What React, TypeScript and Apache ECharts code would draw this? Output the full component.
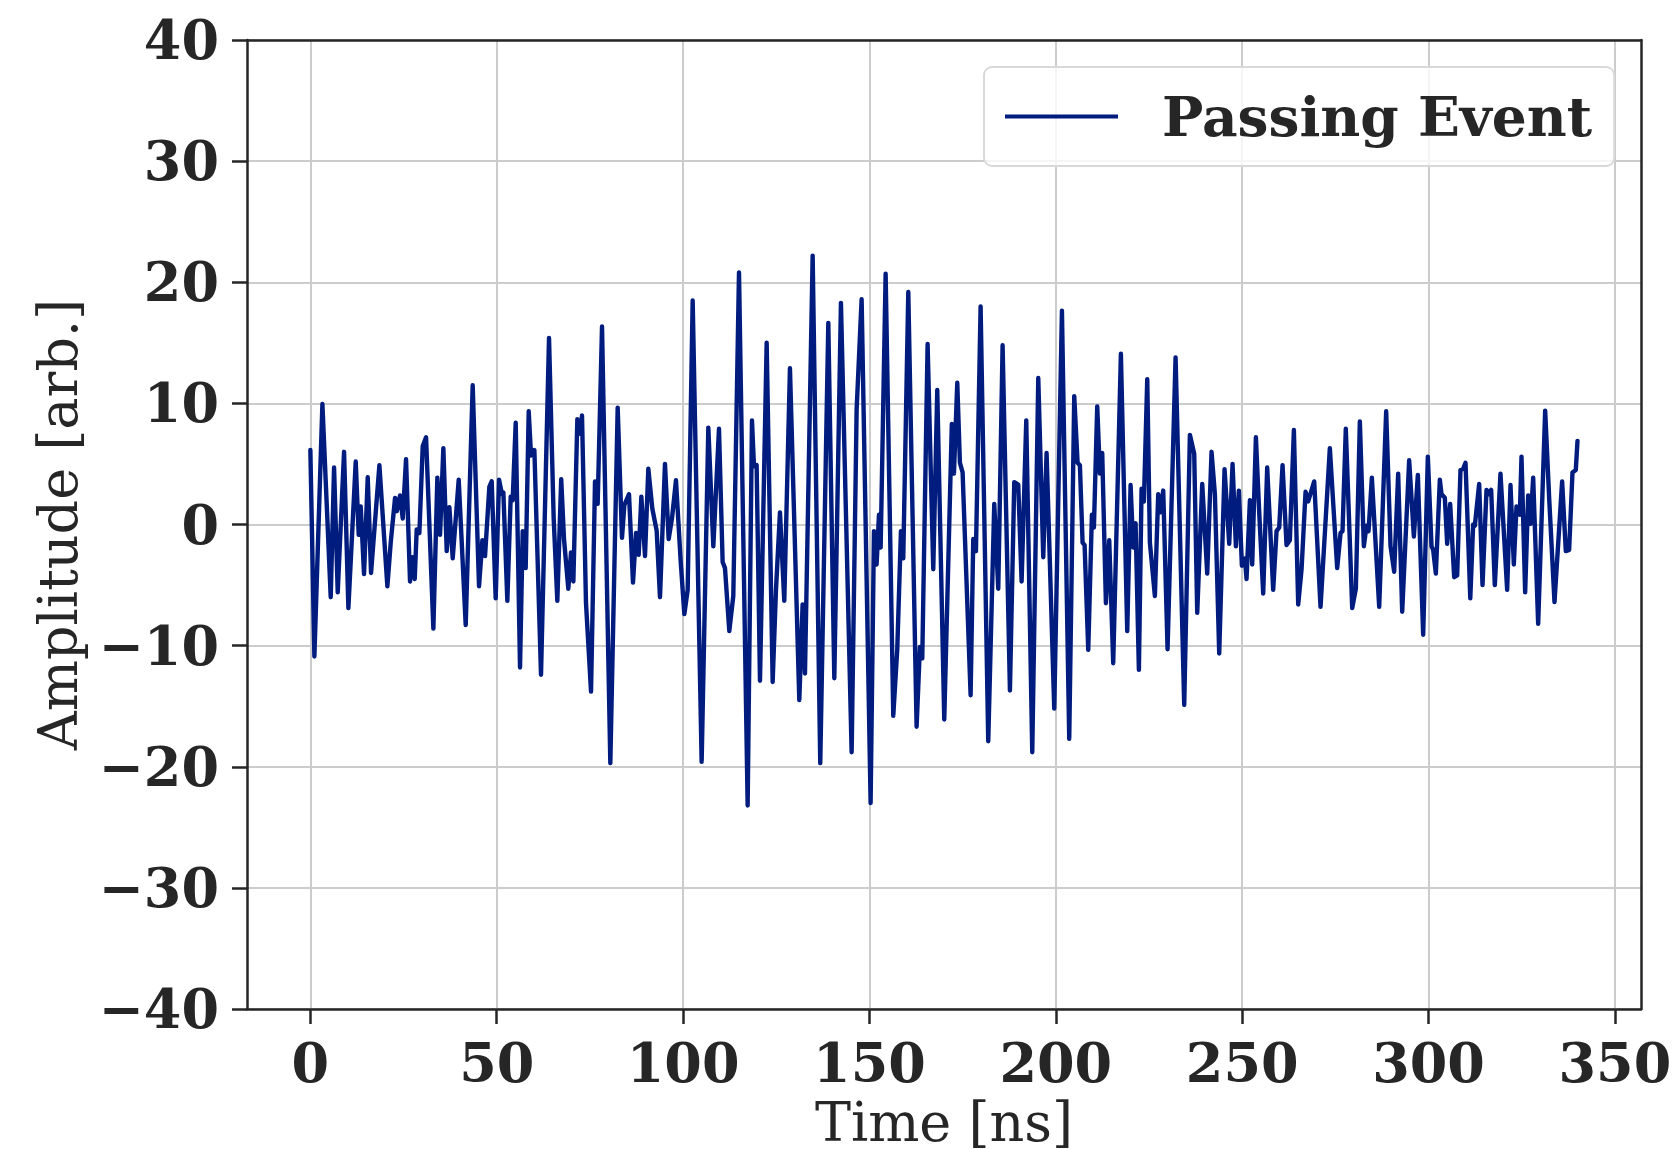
import React, { useEffect, useRef } from "react";
import * as echarts from "echarts";

const seriesName = "Passing Event";
const xTicks = [0, 50, 100, 150, 200, 250, 300, 350];
const yTicks = [-40, -30, -20, -10, 0, 10, 20, 30, 40];

const timeNs = [
  0, 1.08, 3.23, 5.46, 6.36, 7.34, 9.04, 10.2, 12.17, 12.97, 13.51, 14.4, 15.39, 16.28, 18.52, 20.66,
  21.56, 22.72, 23.17, 24.06, 24.78, 25.67, 26.74, 27.37, 28.0, 28.53, 29.25, 30.14, 31.04, 33.0,
  34.07, 34.79, 35.68, 36.58, 37.29, 38.19, 39.8, 41.68, 43.55, 45.25, 46.15, 46.86, 48.02, 48.65,
  49.72, 50.62, 51.42, 51.78, 52.85, 53.75, 54.28, 55.09, 56.25, 56.97, 57.77, 58.58, 59.2, 60.1,
  61.88, 64.03, 65.28, 66.26, 67.3, 68.05, 69.21, 69.93, 70.56, 71.63, 72.34, 72.88, 73.95, 75.3,
  76.37, 77.08, 78.25, 80.48, 82.45, 83.61, 84.24, 85.49, 86.56, 87.37, 88.08, 88.8, 89.78, 90.67,
  91.75, 92.91, 93.8, 95.14, 96.13, 97.02, 98.09, 99.35, 100.33, 101.23, 102.57, 104.98, 106.77,
  108.11, 109.63, 110.61, 111.24, 112.4, 113.47, 115.0, 117.32, 118.48, 119.02, 119.73, 120.63,
  122.42, 124.03, 124.92, 125.99, 127.15, 128.67, 131.18, 132.07, 132.7, 134.76, 136.8, 138.96,
  140.57, 142.35, 145.22, 146.56, 147.9, 150.31, 151.21, 151.92, 152.55, 153.0, 154.34, 156.39,
  157.46, 158.45, 159.07, 160.42, 162.65, 163.54, 164.17, 165.6, 167.12, 168.19, 170.07, 172.1,
  172.67, 173.56, 174.27, 174.99, 177.14, 177.85, 178.57, 179.82, 181.87, 183.48, 184.56, 185.72,
  187.69, 188.85, 189.92, 190.82, 192.07, 193.68, 195.29, 196.63, 197.52, 199.58, 201.64, 203.6,
  204.94, 205.84, 206.46, 207.18, 207.72, 208.7, 209.68, 210.22, 211.11, 211.83, 212.45, 213.44,
  214.33, 215.4, 217.46, 219.16, 220.06, 220.77, 221.4, 222.29, 223.0, 223.63, 224.53, 225.24,
  226.58, 227.47, 228.1, 228.82, 229.98, 232.13, 234.45, 235.97, 237.13, 237.94, 239.28, 240.62,
  241.78, 242.68, 243.84, 245.27, 246.52, 247.42, 248.31, 249.11, 249.92, 250.72, 251.17, 252.07,
  252.69, 253.68, 254.57, 255.64, 256.71, 258.32, 259.22, 259.93, 260.83, 261.9, 262.79, 263.87,
  265.03, 265.93, 267.0, 267.71, 269.32, 271.02, 273.52, 275.49, 276.39, 276.92, 277.8, 279.52,
  280.5, 281.57, 282.64, 283.36, 283.9, 284.79, 286.76, 288.63, 289.8, 290.78, 291.85, 292.93,
  294.8, 296.06, 297.13, 298.56, 299.81, 300.8, 301.24, 301.96, 303.03, 303.48, 304.37, 305.0,
  305.8, 306.88, 307.68, 308.57, 309.29, 309.92, 311.2, 311.97, 312.42, 313.58, 314.48, 315.55,
  316.17, 316.8, 317.78, 319.3, 321.09, 321.99, 322.88, 323.6, 324.49, 324.94, 325.92, 326.73,
  327.35, 328.07, 329.41, 331.29, 332.36, 333.79, 335.84, 336.83, 337.72, 338.62, 339.51, 339.96,
];

const amplitude = [
  6.15, -10.9, 9.95, -6.0, 4.7, -5.6, 6.0, -6.9, 5.2, -0.85, 1.5, -4.1, 3.9, -4.0, 4.9, -5.1,
  -1.5, 2.2, 1.1, 2.4, 0.5, 5.4, -4.7, -2.7, -4.5, -0.4, -0.7, 6.45, 7.2, -8.6,
  3.87, -0.85, 6.3, -2.2, 1.43, -2.8, 3.7, -8.3, 11.5, -5.1, -1.3, -2.6, 3.1, 3.56,
  -6.1, 3.7, 2.5, 2.65, -6.3, 2.3, 2.0, 8.4, -11.8, -0.55, -3.6, 9.35, 5.7, 6.15,
  -12.4, 15.4, 0.5, -6.3, 3.75, -1.2, -5.3, -2.3, -4.7, 8.7, 7.5, 9.0, -6.5, -13.8,
  3.56, 1.7, 16.35, -19.7, 9.65, -1.1, 1.6, 2.5, -4.8, -0.7, -2.5, 2.3, -2.6, 4.6,
  1.3, -0.5, -6.0, 5.0, -1.2, 0.5, 3.65, -3.0, -7.4, -5.4, 18.5, -19.6, 8.0,
  -1.8, 7.9, -3.1, -3.6, -8.8, -5.9, 20.8, -23.2, 8.6, 4.8, 4.9, -12.9,
  15.0, -13.0, -5.4, 1.0, -6.3, 12.9, -14.5, -6.6, -12.3, 22.2, -19.7, 16.65,
  -12.7, 18.3, -18.8, 9.5, 18.6, -23.0, -0.55, -3.3, 0.8, -1.9, 20.7, -15.8,
  -10.3, -0.55, -2.8, 19.2, -16.7, -10.1, -11.05, 14.9, -3.7, 11.1, -16.1, 8.3,
  4.2, 11.7, 5.1, 4.3, -14.1, -1.2, -2.2, 18.0, -17.9, 1.7, -5.3, 14.8,
  -13.7, 3.5, 3.3, -4.7, 8.6, -18.8, 12.1, -2.7, 5.9, -15.2, 17.65, -17.7,
  10.6, 5.1, 4.9, -1.5, -1.7, -10.35, 0.8, -0.25, 9.75, 4.2, 5.9, -6.5,
  -1.3, -11.45, 14.1, -8.8, 3.26, -1.9, 0.1, -12.0, 2.95, 1.9, 12.0, -1.5,
  -5.9, 2.5, 1.0, 2.8, -10.3, 13.8, -14.9, 7.4, 5.85, -7.3, 3.35, -4.05,
  6.0, 2.5, -10.65, 4.57, -1.6, 5.0, -1.8, 2.8, -3.4, -2.8, -4.5, 2.0,
  -3.3, 7.2, 1.0, -5.7, 4.7, -5.4, -0.55, -0.25, 4.9, -1.7, -1.3, 7.8,
  -6.6, -3.7, 2.7, 1.9, 3.56, -6.8, 6.3, -3.6, -0.7, -0.55, 7.9, -6.9,
  -5.3, 8.5, -1.8, -0.1, -0.55, 3.87, -6.8, 9.35, -1.8, -3.9, 4.2, -7.2,
  5.3, -1.0, 4.1, -9.1, 5.6, -1.8, -2.1, -4.05, 3.7, 2.5, 2.2, -1.6,
  1.7, -4.35, -4.2, 4.5, 4.6, 5.1, -6.1, 0.0, -0.1, 3.35, -5.0, 2.86,
  2.5, 2.86, -5.0, 4.2, -5.4, 3.26, -3.3, 1.5, 0.8, 5.6, -5.6, 2.4,
  0.06, 3.87, -8.2, 9.4, 2.2, -6.4, 3.56, -2.2, -2.1, 4.3, 4.5, 6.9,
];

const FONT = "'DejaVu Serif', serif";
const INK = "#262626";
const fmt = (v: number) => (v < 0 ? "\u2212" + Math.abs(v) : String(v));
const X_MIN = -17;
const X_MAX = 357;

export default function App() {
  const ref = useRef<HTMLDivElement>(null);
  useEffect(() => {
    if (!ref.current) return;
    const chart = echarts.init(ref.current, undefined, { renderer: "svg" });
    const data = timeNs.map((t, i) => [t, amplitude[i]]);
    const spineOnly = {
      axisLine: { show: true, onZero: false, lineStyle: { color: INK, width: 2.5 } },
      axisTick: { show: false },
      axisLabel: { show: false },
      splitLine: { show: false },
      z: 5,
    };
    chart.setOption({
      animation: false,
      backgroundColor: "#ffffff",
      grid: {
        left: 247,
        right: 35,
        top: 40,
        bottom: 140,
        show: false,
        containLabel: false,
        outerBoundsMode: "none",
      },
      legend: {
        show: true,
        left: 984,
        top: 67,
        padding: [22, 22, 22, 21],
        itemWidth: 113,
        itemHeight: 4,
        icon: "rect",
        backgroundColor: "rgba(255,255,255,0.8)",
        borderColor: "#d9d9d9",
        borderWidth: 2,
        borderRadius: 8,
        data: [seriesName],
        textStyle: {
          fontFamily: FONT,
          fontWeight: "bold",
          fontSize: 55,
          color: INK,
          padding: [0, 0, 0, 39],
        },
      },
      xAxis: [
        {
          type: "value",
          min: X_MIN,
          max: X_MAX,
          name: "Time [ns]",
          nameLocation: "middle",
          nameGap: 86,
          nameTextStyle: { fontFamily: FONT, fontSize: 54, color: INK },
          axisLine: { show: true, onZero: false, lineStyle: { color: INK, width: 2.5 } },
          axisTick: { show: true, customValues: xTicks, length: 15, lineStyle: { color: INK, width: 2.5 } },
          axisLabel: {
            customValues: xTicks,
            fontFamily: FONT,
            fontWeight: "bold",
            fontSize: 54,
            color: INK,
            margin: 27,
            formatter: (v: number) => fmt(v),
          },
          splitLine: { show: true, lineStyle: { color: "#cccccc", width: 2 } },
        },
        { type: "value", position: "top", min: X_MIN, max: X_MAX, ...spineOnly },
      ],
      yAxis: [
        {
          type: "value",
          min: yTicks[0],
          max: yTicks[yTicks.length - 1],
          interval: 10,
          name: "Amplitude [arb.]",
          nameLocation: "middle",
          nameGap: 162,
          nameTextStyle: { fontFamily: FONT, fontSize: 54, color: INK },
          axisLine: { show: true, onZero: false, lineStyle: { color: INK, width: 2.5 } },
          axisTick: { show: true, length: 15, lineStyle: { color: INK, width: 2.5 } },
          axisLabel: {
            fontFamily: FONT,
            fontWeight: "bold",
            fontSize: 54,
            color: INK,
            margin: 28,
            formatter: (v: number) => fmt(v),
          },
          splitLine: { show: true, lineStyle: { color: "#cccccc", width: 2 } },
        },
        {
          type: "value",
          position: "right",
          min: yTicks[0],
          max: yTicks[yTicks.length - 1],
          interval: 10,
          ...spineOnly,
        },
      ],
      series: [
        {
          name: seriesName,
          type: "line",
          xAxisIndex: 0,
          yAxisIndex: 0,
          data,
          symbol: "none",
          showSymbol: false,
          color: "#001c7f",
          lineStyle: { color: "#001c7f", width: 4.4, join: "round", cap: "round" },
          itemStyle: { color: "#001c7f" },
          z: 3,
        },
      ],
    });
    return () => chart.dispose();
  }, []);
  return (
    <div
      ref={ref}
      style={{ position: "fixed", left: 0, top: 0, width: 1676, height: 1149, background: "#fff" }}
    />
  );
}
